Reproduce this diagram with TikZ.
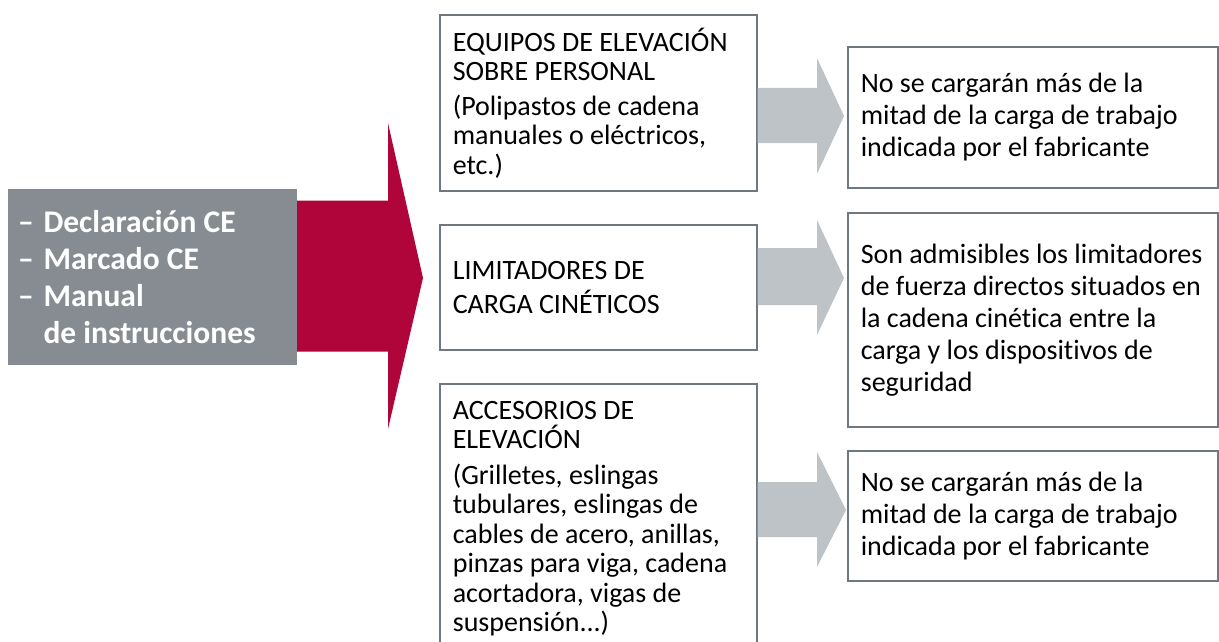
\documentclass[tikz,border=0pt]{standalone}
\usepackage{fontspec}
\setmainfont{Carlito}[Ligatures=NoCommon]
\usetikzlibrary{positioning}

\definecolor{rojo}{HTML}{B0053A}
\definecolor{grisoscuro}{HTML}{878C93}
\definecolor{grisclaro}{HTML}{BEC3C8}
\definecolor{borde}{HTML}{6F7880}
\newcommand{\singuion}{\hyphenpenalty10000\relax}

\tikzset{
  caja/.style={draw=borde, line width=1.6pt, fill=white, anchor=north west,
    align=flush left, inner xsep=13pt, inner ysep=0pt,
    font=\fontsize{28}{29.5}\selectfont\singuion},
  nota/.style={caja, text width=344pt, font=\fontsize{28}{32}\selectfont\singuion},
  flecha/.style={fill=grisclaro}
}

\begin{document}
\begin{tikzpicture}[x=1pt,y=-1pt]
        \useasboundingbox (0,0) rectangle (1219,642);
        \clip (0,0) rectangle (1219,642);

        % big red arrow behind the grey box
        \fill[rojo] (290,200.7) -- (388,200.7) -- (388,123) -- (423,278)
          -- (388,429) -- (388,351.7) -- (290,351.7) -- cycle;

        \node[fill=grisoscuro, anchor=north west, minimum width=289pt, minimum height=176pt,
          text width=269pt, inner xsep=10pt, inner ysep=0pt, align=flush left, text=white,
          font=\bfseries\fontsize{31.5}{37}\selectfont] (docs) at (8,189)
          {–\hspace{0.08em} Declaración CE\\ –\hspace{0.08em} Marcado CE\\ –\hspace{0.08em} Manual\\ \phantom{–\hspace{0.08em} }de instrucciones};

        \node[caja, text width=291pt, minimum height=176pt] (equipos) at (439,14)
          {EQUIPOS DE ELEVACIÓN\\ SOBRE PERSONAL\\[5pt] (Polipastos de cadena\\ manuales o eléctricos,\\ etc.)};
        \node[caja, text width=291pt, minimum height=125pt,
          font=\fontsize{28}{34}\selectfont] (limitadores) at (439,224)
          {LIMITADORES DE\\ CARGA CINÉTICOS};
        \node[caja, text width=291pt, minimum height=270pt] (accesorios) at (439,383)
          {ACCESORIOS DE\\ ELEVACIÓN\\[6pt] (Grilletes, eslingas\\ tubulares, eslingas de\\ cables de acero, anillas,\\ pinzas para viga, cadena\\ acortadora, vigas de\\ suspensión...)};

        \node[nota, minimum height=141pt] (mitad1) at (847,46)
          {No se cargarán más de la\\ mitad de la carga de trabajo\\ indicada por el fabricante};
        \node[nota, minimum height=214pt] (admisibles) at (847,212)
          {Son admisibles los limitadores\\ de fuerza directos situados en\\ la cadena cinética entre la\\ carga y los dispositivos de\\ seguridad};
        \node[nota, minimum height=130pt] (mitad2) at (847,450)
          {No se cargarán más de la\\ mitad de la carga de trabajo\\ indicada por el fabricante};

        % grey arrows
        \fill[flecha] (equipos.east |- 0,88) -- (817,88) -- (817,58) -- (844,116)
          -- (817,174) -- (817,143) -- (equipos.east |- 0,143) -- cycle;
        \fill[flecha] (limitadores.east |- 0,248) -- (817,248) -- (817,220) -- (844,278)
          -- (817,335) -- (817,305) -- (limitadores.east |- 0,305) -- cycle;
        \fill[flecha] (accesorios.east |- 0,482) -- (817,482) -- (817,452) -- (846,510)
          -- (817,567) -- (817,537) -- (accesorios.east |- 0,537) -- cycle;

        \end{tikzpicture}
\end{document}
